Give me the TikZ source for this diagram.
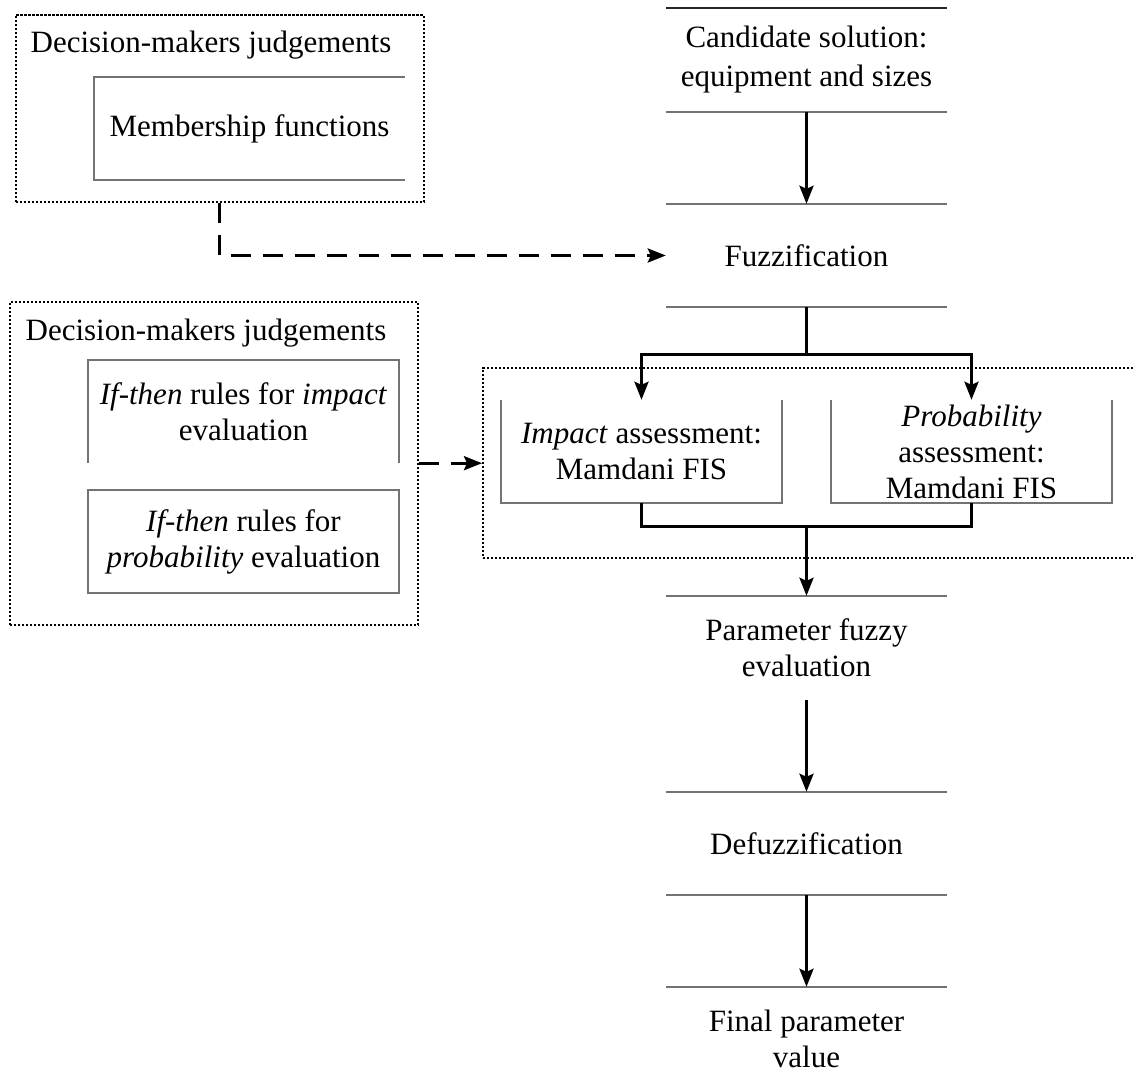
\documentclass[tikz,border=0pt]{standalone}
\usepackage{fontspec}
\setmainfont{Liberation Serif}
\usetikzlibrary{arrows.meta}
\begin{document}
\begin{tikzpicture}[x=1pt,y=-1pt,
  txt/.style={align=center,font=\fontsize{31}{36}\selectfont,inner sep=0pt},
  slot/.style={inner sep=0pt,align=center,font=\fontsize{31}{36}\selectfont},
  frame/.style={draw=black,line width=2pt,dash pattern=on 2.2pt off 1.8pt,inner sep=0pt},
  edge/.style={draw=black!55,line width=1.5pt},
  tip/.style={-{Stealth[length=18pt,width=14pt,inset=3pt]}},
  flow/.style={line width=3pt,tip},
  link/.style={line width=3pt},
  feed/.style={line width=3pt,dash pattern=on 20pt off 12pt,tip}]
\useasboundingbox (0,0) rectangle (1134,1086);

% dotted group frames
\node[frame,minimum width=408pt,minimum height=187pt] (dmA) at (219.5,108.5) {};
\node[frame,minimum width=408pt,minimum height=323pt] (dmB) at (214,463.5) {};
\node[frame,minimum width=662pt,minimum height=190pt] (fis) at (814,463) {};

% group titles
\node[txt] (dmAt) at (211,45) {Decision-makers judgements};
\node[txt] (dmBt) at (206,333) {Decision-makers judgements};

% judgement inputs
\node[slot,minimum width=311pt,minimum height=103pt] (mf) at (249.5,128.5) {Membership functions};
\node[slot,minimum width=311pt,minimum height=103pt] (ruleA) at (243.5,411.5)
  {\textit{If-then} rules for \textit{impact}\\evaluation};
\node[slot,minimum width=311pt,minimum height=103pt] (ruleB) at (243.5,541.5)
  {\textit{If-then} rules for\\\textit{probability} evaluation};

% main chain
\node[slot,minimum width=281pt,minimum height=104pt,font=\fontsize{31}{39}\selectfont] (cand) at (806.5,60)
  {Candidate solution:\\equipment and sizes};
\node[slot,minimum width=281pt,minimum height=103pt] (fuzz) at (806.5,255.5) {Fuzzification};
\node[slot,minimum width=281pt,minimum height=103pt] (imp) at (641.5,451.5)
  {\textit{Impact} assessment:\\Mamdani FIS};
\node[slot,minimum width=281pt,minimum height=103pt] (prob) at (971.5,451.5)
  {\textit{Probability}\\assessment:\\Mamdani FIS};
\node[slot,minimum width=281pt,minimum height=104pt] (param) at (806.5,648)
  {Parameter fuzzy\\evaluation};
\node[slot,minimum width=281pt,minimum height=103pt] (defuzz) at (806.5,843.5) {Defuzzification};
\node[slot,minimum width=281pt,minimum height=104pt] (final) at (806.5,1039)
  {Final parameter\\value};

% box rules
\draw[edge] (mf.north east) -- (mf.north west) -- (mf.south west) -- (mf.south east);
\draw[edge] (ruleA.south west) -- (ruleA.north west) -- (ruleA.north east) -- (ruleA.south east);
\draw[edge] (ruleB.north west) rectangle (ruleB.south east);
\draw[line width=1.5pt,black!85] (cand.north west) -- (cand.north east);
\draw[edge] (cand.south west) -- (cand.south east);
\draw[edge] (fuzz.north west) -- (fuzz.north east);
\draw[edge] (fuzz.south west) -- (fuzz.south east);
\draw[edge] (imp.north west) -- (imp.south west) -- (imp.south east) -- (imp.north east);
\draw[edge] (prob.north west) -- (prob.south west) -- (prob.south east) -- (prob.north east);
\draw[edge] (param.north west) -- (param.north east);
\draw[edge] (defuzz.north west) -- (defuzz.north east);
\draw[edge] (defuzz.south west) -- (defuzz.south east);
\draw[edge] (final.north west) -- (final.north east);

% connectors
\draw[flow] (cand.south) -- (fuzz.north);
\draw[link] (fuzz.south) -- ++(0,47) coordinate (fork);
\draw[flow] (fork) -| (imp.north);
\draw[flow] (fork) -| (prob.north);
\draw[link] (imp.south) -- ++(0,23) coordinate (join) -| (prob.south);
\draw[flow] (join -| fuzz.south) -- (param.north);
\draw[flow] (param.south) -- (defuzz.north);
\draw[flow] (defuzz.south) -- (final.north);

% judgement feeds
\draw[feed] ([xshift=205pt]dmA.south west) |- (fuzz.west);
\draw[feed] (dmB.east |- ruleA.south) -- (fis.west |- ruleA.south);
\end{tikzpicture}
\end{document}
